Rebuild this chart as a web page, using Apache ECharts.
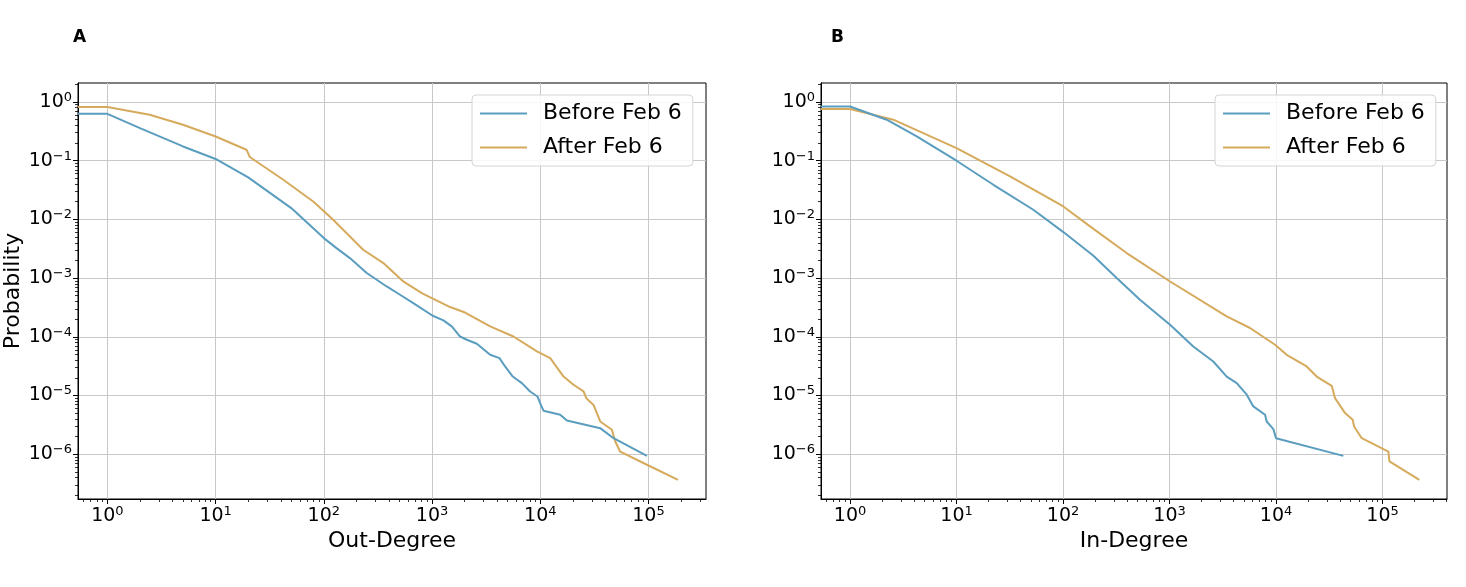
<!DOCTYPE html>
<html>
<head>
<meta charset="utf-8">
<script src="https://cdn.jsdelivr.net/npm/echarts@6/dist/echarts.min.js"></script>
<style>
html,body{margin:0;padding:0;background:#fff;}
#chart{width:1466px;height:587px;}
</style>
</head>
<body>
<div id="chart"></div>
<script>
// ---- data ----
var seriesNames = ['Before Feb 6', 'After Feb 6'];

var outBeforeX = [0.535, 1, 2, 5, 10, 20, 50, 100, 131, 174, 249, 381, 506, 671, 1014, 1274, 1521, 1816, 2094, 2594, 3443, 4198, 4732, 5572, 6761, 8054, 9419, 10120, 10720, 15280, 17620, 35810, 47530, 96830];
var outBeforeY = [0.63, 0.63, 0.36, 0.175, 0.107, 0.052, 0.0156, 0.0048, 0.00324, 0.00219, 0.00122, 0.00072, 0.00052, 0.000375, 0.000228, 0.00019, 0.00015, 0.000101, 8.9e-5, 7.6e-5, 4.93e-5, 4.33e-5, 3.12e-5, 2.1e-5, 1.62e-5, 1.17e-5, 9.6e-6, 6.9e-6, 5.5e-6, 4.7e-6, 3.74e-6, 2.77e-6, 1.87e-6, 9.35e-7];

var outAfterX = [0.535, 1, 2.46, 5, 10, 19.3, 20.7, 42.2, 79.8, 122, 151, 231, 355, 542, 804, 1028, 1469, 2018, 3443, 5649, 9311, 12360, 16410, 20280, 25120, 26610, 31050, 35810, 45920, 49320, 54830, 100000, 187500];
var outAfterY = [0.82, 0.82, 0.608, 0.41, 0.259, 0.154, 0.1156, 0.0474, 0.0202, 0.00986, 0.00665, 0.00304, 0.0018, 0.000877, 0.000555, 0.000444, 0.000321, 0.000259, 0.00015, 0.000101, 5.62e-5, 4.33e-5, 2.1e-5, 1.52e-5, 1.17e-5, 9.0e-6, 6.9e-6, 3.6e-6, 2.6e-6, 1.64e-6, 1.1e-6, 6.4e-7, 3.65e-7];

var inBeforeX = [0.534, 1, 2.21, 4.23, 10, 22.2, 52.6, 100.7, 193, 319, 528, 815, 1012, 1671, 2576, 3443, 4276, 5309, 6124, 7889, 8166, 9441, 10000, 42850];
var inBeforeY = [0.84, 0.84, 0.5, 0.26, 0.1, 0.0389, 0.0146, 0.00608, 0.0024, 0.001, 0.000427, 0.000222, 0.00016, 6.82e-5, 3.79e-5, 2.1e-5, 1.62e-5, 1.03e-5, 6.5e-6, 4.68e-6, 3.6e-6, 2.67e-6, 1.87e-6, 9.35e-7];

var inAfterX = [0.534, 1, 2.55, 10, 31.8, 100.7, 193, 396, 1012, 3443, 5702, 9795, 12590, 19410, 24100, 33340, 35810, 44460, 52480, 54080, 63830, 113500, 116100, 221800];
var inAfterY = [0.76, 0.76, 0.5, 0.164, 0.054, 0.0166, 0.0069, 0.00267, 0.000875, 0.000222, 0.000141, 7.3e-5, 4.93e-5, 3.12e-5, 2.1e-5, 1.46e-5, 9.0e-6, 5.0e-6, 3.85e-6, 2.96e-6, 1.87e-6, 1.1e-6, 7.5e-7, 3.65e-7];

var xMajorTicks = [1, 10, 100, 1000, 10000, 100000];
var yMajorTicks = [1e-6, 1e-5, 1e-4, 1e-3, 1e-2, 1e-1, 1];
var xAxisTitles = ['Out-Degree', 'In-Degree'];
var yAxisTitle = 'Probability';
var panelLabels = ['A', 'B'];

// ---- helpers ----
function zip(xs, ys) { return xs.map(function (x, i) { return [x, ys[i]]; }); }
function minorTicks(kFrom, kTo, lo, hi) {
  var out = [];
  for (var k = kFrom; k <= kTo; k++) {
    for (var m = 2; m <= 9; m++) {
      var v = m * Math.pow(10, k);
      if (v > lo && v < hi) out.push(v);
    }
  }
  return out;
}
function powLabel(v) {
  var e = Math.round(Math.log10(v));
  var s = e < 0 ? '\u2212' + (-e) : String(e);
  return '{b|10}{s|' + s + '}';
}
var labelRich = {
  b: { fontSize: 19, color: '#000', fontFamily: 'DejaVu Sans' },
  s: { fontSize: 13, color: '#000', fontFamily: 'DejaVu Sans', padding: [0, 0, 9, 0] }
};

var BLUE = '#5a9dbf', GOLD = '#d6aa5c';
var xRanges = [[0.535, 340000], [0.534, 403000]];
var yRange = [1.72e-7, 2.11];
var grids = [
  { left: 78, top: 83, width: 628, height: 416 },
  { left: 821, top: 83, width: 626, height: 416 }
];
var legendPos = [{ left: 472, top: 95 }, { left: 1215, top: 95 }];

var option = {
  backgroundColor: '#fff',
  animation: false,
  textStyle: { fontFamily: 'DejaVu Sans' },
  grid: grids.map(function (g) {
    return Object.assign({ show: true, borderColor: '#000', borderWidth: 1, backgroundColor: 'transparent' }, g);
  }),
  title: panelLabels.map(function (t, i) {
    return { text: t, left: i === 0 ? 68 : 826, top: 24,
      textStyle: { fontSize: 17, fontWeight: 'bold', color: '#000', fontFamily: 'DejaVu Sans' } };
  }),
  legend: legendPos.map(function (p, i) {
    return {
      orient: 'vertical', left: p.left, top: p.top,
      data: seriesNames.map(function (n) { return { name: n, icon: 'rect' }; }),
      itemWidth: 47, itemHeight: 2, itemGap: 9,
      padding: [6, 11, 6, 8],
      backgroundColor: 'rgba(255,255,255,0.85)',
      borderColor: '#d4d4d4', borderWidth: 1, borderRadius: 4,
      textStyle: { fontSize: 22, color: '#000', fontFamily: 'DejaVu Sans', padding: [0, 0, 0, 11], lineHeight: 25 },
      selectedMode: false
    };
  }),
  xAxis: [],
  yAxis: [],
  series: []
};

[0, 1].forEach(function (gi) {
  var xr = xRanges[gi];
  option.xAxis.push({
    type: 'log', logBase: 10, gridIndex: gi, min: xr[0], max: xr[1], position: 'bottom',
    name: xAxisTitles[gi], nameLocation: 'middle', nameGap: 29,
    nameTextStyle: { fontSize: 22, color: '#000', fontFamily: 'DejaVu Sans' },
    axisLine: { show: true, lineStyle: { color: '#000', width: 1 } },
    axisTick: { show: true, length: 5, inside: false, customValues: xMajorTicks, lineStyle: { color: '#000' } },
    axisLabel: { show: true, customValues: xMajorTicks, margin: 6, formatter: powLabel, rich: labelRich },
    splitLine: { show: true, lineStyle: { color: '#c8c8c8', width: 1 } }
  });
  option.xAxis.push({
    type: 'log', logBase: 10, gridIndex: gi, min: xr[0], max: xr[1], position: 'bottom',
    axisLine: { show: false },
    axisTick: { show: true, length: 3, customValues: minorTicks(-1, 5, xr[0], xr[1]), lineStyle: { color: '#000', width: 0.8 } },
    axisLabel: { show: false },
    splitLine: { show: false }
  });
  option.yAxis.push({
    type: 'log', logBase: 10, gridIndex: gi, min: yRange[0], max: yRange[1], position: 'left',
    name: gi === 0 ? yAxisTitle : '', nameLocation: 'middle', nameGap: 52, nameRotate: 90,
    nameTextStyle: { fontSize: 22, color: '#000', fontFamily: 'DejaVu Sans' },
    axisLine: { show: true, lineStyle: { color: '#000', width: 1 } },
    axisTick: { show: true, length: 5, customValues: yMajorTicks, lineStyle: { color: '#000' } },
    axisLabel: { show: true, customValues: yMajorTicks, margin: 6, formatter: powLabel, rich: labelRich },
    splitLine: { show: true, lineStyle: { color: '#c8c8c8', width: 1 } }
  });
  option.yAxis.push({
    type: 'log', logBase: 10, gridIndex: gi, min: yRange[0], max: yRange[1], position: 'left',
    axisLine: { show: false },
    axisTick: { show: true, length: 3, customValues: minorTicks(-7, 0, yRange[0], yRange[1]), lineStyle: { color: '#000', width: 0.8 } },
    axisLabel: { show: false },
    splitLine: { show: false }
  });
});

var seriesData = [
  [zip(outBeforeX, outBeforeY), zip(outAfterX, outAfterY)],
  [zip(inBeforeX, inBeforeY), zip(inAfterX, inAfterY)]
];
[0, 1].forEach(function (gi) {
  [0, 1].forEach(function (si) {
    option.series.push({
      type: 'line', name: seriesNames[si],
      xAxisIndex: gi * 2, yAxisIndex: gi * 2,
      data: seriesData[gi][si],
      showSymbol: false, symbol: 'none',
      lineStyle: { color: si === 0 ? BLUE : GOLD, width: 2 },
      itemStyle: { color: si === 0 ? BLUE : GOLD },
      z: si === 0 ? 3 : 2
    });
  });
});

var chart = echarts.init(document.getElementById('chart'), null, { renderer: 'canvas' });
chart.setOption(option);
</script>
</body>
</html>
